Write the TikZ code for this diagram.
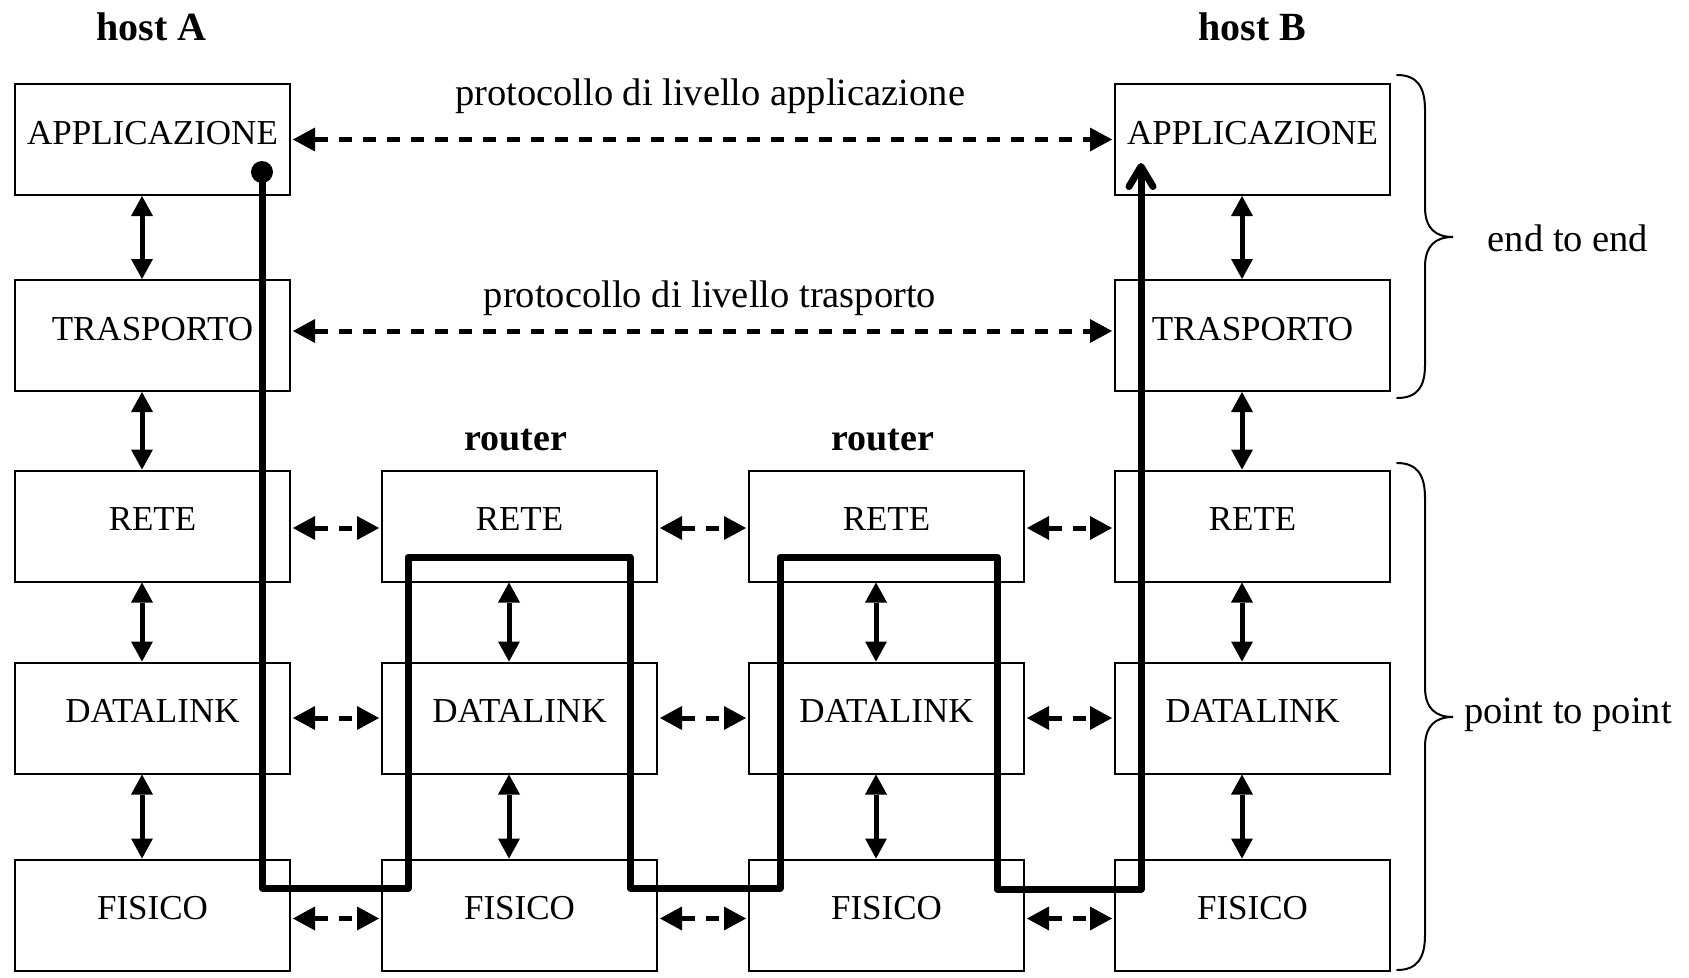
\documentclass[tikz,border=0pt]{standalone}
\usepackage{fontspec}
\setmainfont{Liberation Serif}
\usetikzlibrary{arrows.meta}

\tikzset{
  layer/.style={draw, line width=2pt, minimum width=275pt, minimum height=111pt,
    inner sep=0pt, text height=22pt, text depth=13pt,
    font=\fontsize{35pt}{40pt}\selectfont},
  hosttitle/.style={anchor=base, inner sep=0pt, font=\fontsize{40pt}{44pt}\selectfont\bfseries},
  routertitle/.style={anchor=base, inner sep=0pt, font=\fontsize{38pt}{42pt}\selectfont\bfseries},
  note/.style={anchor=base, inner sep=0pt, font=\fontsize{38.5pt}{42pt}\selectfont},
  stack/.style={line width=5pt,
    {Triangle[length=20pt,width=22pt,line width=0pt]}-{Triangle[length=20pt,width=22pt,line width=0pt]}},
  peer/.style={line width=5pt, dash pattern=on 13pt off 11pt,
    {Triangle[length=22pt,width=24pt,line width=0pt]}-{Triangle[length=22pt,width=24pt,line width=0pt]},
    shorten >=2pt, shorten <=2pt},
  route/.style={line width=7pt, line cap=round, line join=round},
  brace/.style={line width=2pt, line cap=round},
}

\begin{document}
\begin{tikzpicture}[x=1pt, y=-1pt]
\useasboundingbox (0,0) rectangle (1689,977);

% column titles
\node[hosttitle] (hA) at (151.5,40) {host A};
\node[hosttitle] (hB) at (1252.5,40) {host B};
\node[routertitle] (rt1) at (516,450) {router};
\node[routertitle] (rt2) at (883,450) {router};

% protocol stacks: host A, router 1, router 2, host B
\node[layer] (a1) at (152.5,139.5) {APPLICAZIONE};
\node[layer] (a2) at (152.5,335.5) {TRASPORTO};
\node[layer] (a3) at (152.5,526)   {RETE};
\node[layer] (a4) at (152.5,718)   {DATALINK};
\node[layer] (a5) at (152.5,915)   {FISICO};

\node[layer] (r3) at (519.5,526) {RETE};
\node[layer] (r4) at (519.5,718) {DATALINK};
\node[layer] (r5) at (519.5,915) {FISICO};

\node[layer] (s3) at (886.5,526) {RETE};
\node[layer] (s4) at (886.5,718) {DATALINK};
\node[layer] (s5) at (886.5,915) {FISICO};

\node[layer] (b1) at (1252.5,139.5) {APPLICAZIONE};
\node[layer] (b2) at (1252.5,335.5) {TRASPORTO};
\node[layer] (b3) at (1252.5,526)   {RETE};
\node[layer] (b4) at (1252.5,718)   {DATALINK};
\node[layer] (b5) at (1252.5,915)   {FISICO};

% interfaces between adjacent layers
\foreach \u/\l in {a1/a2,a2/a3,a3/a4,a4/a5,r3/r4,r4/r5,s3/s4,s4/s5,b1/b2,b2/b3,b3/b4,b4/b5}
  \draw[stack] ([xshift=-10.5pt]\u.south) -- ([xshift=-10.5pt]\l.north);

% peer protocols
\draw[peer] (a1.east) -- (b1.west);
\draw[peer] ([yshift=4.5pt]a2.east) -- ([yshift=4.5pt]b2.west);
\foreach \p/\q in {a3/r3,r3/s3,s3/b3}
  \draw[peer] ([yshift=-2pt]\p.east) -- ([yshift=-2pt]\q.west);
\foreach \p/\q in {a4/r4,r4/s4,s4/b4}
  \draw[peer] (\p.east) -- (\q.west);
\foreach \p/\q in {a5/r5,r5/s5,s5/b5}
  \draw[peer] ([yshift=-3.5pt]\p.east) -- ([yshift=-3.5pt]\q.west);

\node[note] (papp) at (710,105) {protocollo di livello applicazione};
\node[note] (ptra) at (710,307) {protocollo di livello trasporto};

% path of the data through the network
\coordinate (src) at (262,172);
\coordinate (dst) at (1141,163);
\fill (src) circle (11pt);
\draw[route, -{Straight Barb[length=20pt,width=24pt,line cap=round,line join=round]}]
  (src) -- (262,888) -- (408,888) -- (408,557) -- (630,557) -- (630,888)
  -- (780,888) -- (780,557) -- (997,557) -- (997,889) -- (1141,889) -- (dst);

% braces
\draw[brace] (1397,75) .. controls (1418,75) and (1425,88) .. (1425,110)
  -- (1425,207) .. controls (1425,228) and (1435,237) .. (1453,237)
  .. controls (1435,237) and (1425,246) .. (1425,267)
  -- (1425,365) .. controls (1425,386) and (1418,398) .. (1397,398);
\draw[brace] (1397,463) .. controls (1418,463) and (1425,476) .. (1425,498)
  -- (1425,687) .. controls (1425,708) and (1435,717) .. (1453,717)
  .. controls (1435,717) and (1425,726) .. (1425,747)
  -- (1425,935) .. controls (1425,957) and (1418,970) .. (1397,970);

\node[note] (e2e) at (1568,251) {end to end};
\node[note] (p2p) at (1568,723) {point to point};
\end{tikzpicture}
\end{document}
